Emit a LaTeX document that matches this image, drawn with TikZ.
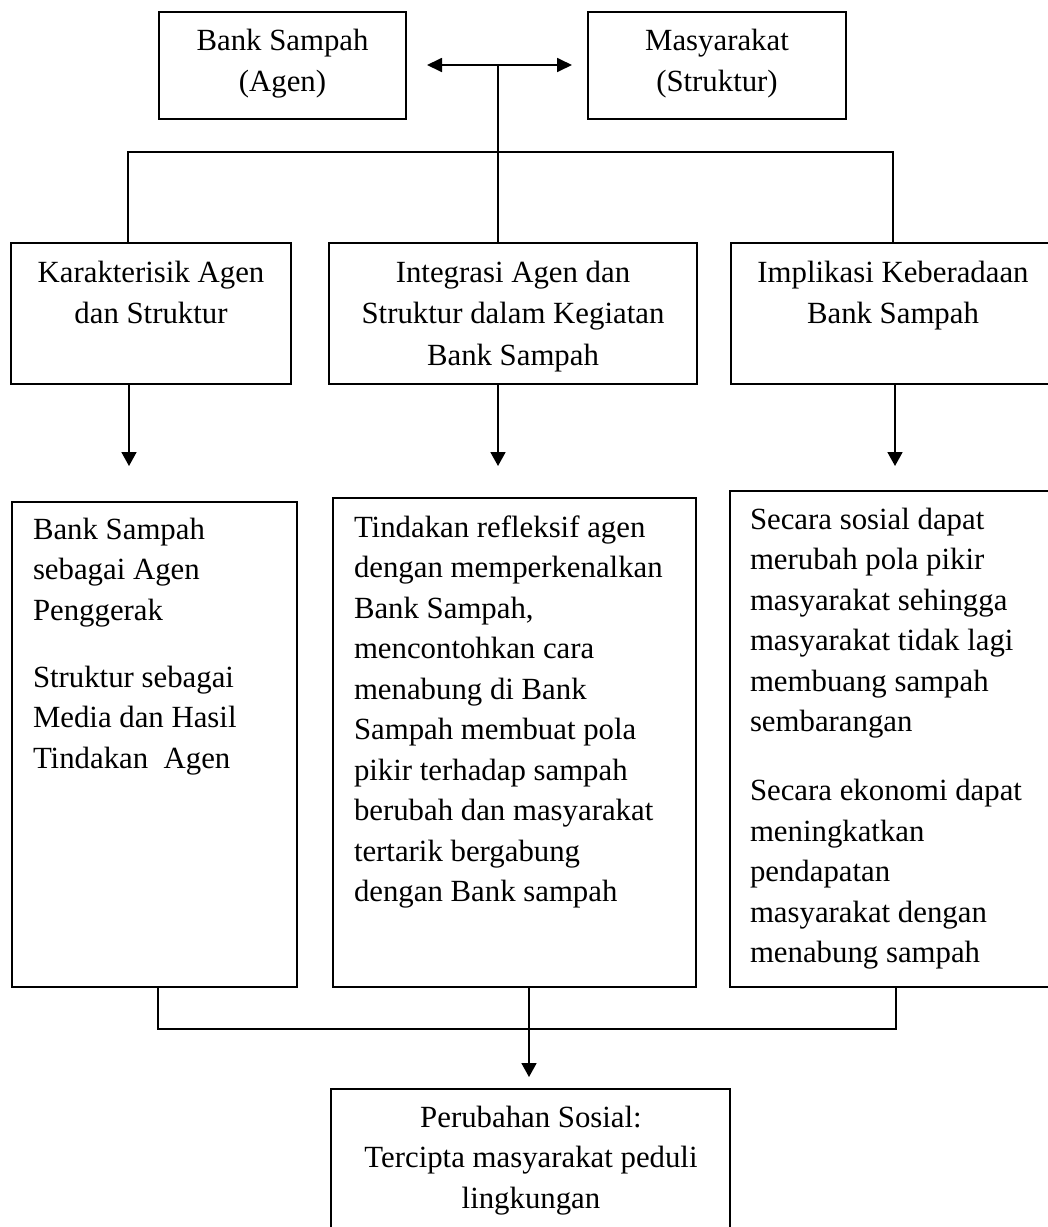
\documentclass[tikz,border=0pt]{standalone}
\usepackage{fontspec}
\setmainfont{Liberation Serif}
\usetikzlibrary{arrows.meta}
\begin{document}
\begin{tikzpicture}[x=0.5pt,y=-0.5pt,
  box/.style={draw, line width=0.9pt, inner sep=0pt, outer sep=0pt, anchor=north west},
  txtc/.style={inner sep=0pt, outer sep=0pt, font=\fontsize{15.4}{20.75}\selectfont, align=center, anchor=north},
  txtl/.style={inner sep=0pt, outer sep=0pt, font=\fontsize{15.4}{20.25}\selectfont, align=left, anchor=north west},
  txtf/.style={inner sep=0pt, outer sep=0pt, font=\fontsize{15.4}{20.25}\selectfont, align=center, anchor=north},
  ln/.style={line width=0.9pt},
  arr/.style={line width=0.9pt, -{Triangle[length=7pt,width=7.5pt]}},
  dbl/.style={line width=0.9pt, {Triangle[length=7.5pt,width=7pt]}-{Triangle[length=7.5pt,width=7pt]}},
]
\useasboundingbox (0,0) rectangle (1048,1227);
\clip (0,0) rectangle (1048,1227);

% top row
\node[box, minimum width=123.5pt, minimum height=53.5pt] (A) at (159,12) {};
\node[box, minimum width=129pt, minimum height=53.5pt] (M) at (588,12) {};
\node[txtc] (At) at (282.5,26) {\rule{0pt}{12pt}Bank Sampah\\(Agen)};
\node[txtc] (Mt) at (717,26) {\rule{0pt}{12pt}Masyarakat\\(Struktur)};

% middle row
\node[box, minimum width=140pt, minimum height=70.5pt] (K) at (11,243) {};
\node[box, minimum width=184pt, minimum height=70.5pt] (I) at (329,243) {};
\node[box, minimum width=162pt, minimum height=70.5pt] (P) at (731,243) {};
\node[txtc] (Kt) at (151,258) {\rule{0pt}{12pt}Karakterisik Agen\\dan Struktur};
\node[txtc] (It) at (513,258) {\rule{0pt}{12pt}Integrasi Agen dan\\Struktur dalam Kegiatan\\Bank Sampah};
\node[txtc] (Pt) at (893,258) {\rule{0pt}{12pt}Implikasi Keberadaan\\Bank Sampah};

% bottom row
\node[box, minimum width=142.5pt, minimum height=242.5pt] (B1) at (12,502) {};
\node[box, minimum width=181.5pt, minimum height=244.5pt] (B2) at (333,498) {};
\node[box, minimum width=162.5pt, minimum height=248pt] (B3) at (730,491) {};
\node[txtl] (B1t) at (33,515) {\rule{0pt}{12pt}Bank Sampah\\sebagai Agen\\Penggerak\\[13.25pt]Struktur sebagai\\Media dan Hasil\\Tindakan\ \ Agen};
\node[txtl] (B2t) at (354,513) {\rule{0pt}{12pt}Tindakan refleksif agen\\dengan memperkenalkan\\Bank Sampah,\\mencontohkan cara\\menabung di Bank\\Sampah membuat pola\\pikir terhadap sampah\\berubah dan masyarakat\\tertarik bergabung\\dengan Bank sampah};
\node[txtl] (B3t) at (750,505) {\rule{0pt}{12pt}Secara sosial dapat\\merubah pola pikir\\masyarakat sehingga\\masyarakat tidak lagi\\membuang sampah\\sembarangan\\[14.25pt]Secara ekonomi dapat\\meningkatkan\\pendapatan\\masyarakat dengan\\menabung sampah};

% final box
\node[box, minimum width=199.5pt, minimum height=85.5pt] (F) at (331,1089) {};
\node[txtf] (Ft) at (531,1103) {\rule{0pt}{12pt}Perubahan Sosial:\\Tercipta masyarakat peduli\\lingkungan};

% connectors top
\coordinate (la) at (427,65);
\coordinate (ra) at (572,65);
\coordinate (jt) at (498,65);
\draw[dbl] (la) -- (ra);
\draw[ln] (jt) -- (jt |- I.north);
\coordinate (hl) at (128,152);
\coordinate (hr) at (893,152);
\draw[ln] (hl |- K.north) -- (hl) -- (hr) -- (hr |- P.north);

% arrows middle to bottom
\coordinate (t1) at (129,466);
\coordinate (t2) at (498,466);
\coordinate (t3) at (895,466);
\draw[arr] (t1 |- K.south) -- (t1);
\draw[arr] (t2 |- I.south) -- (t2);
\draw[arr] (t3 |- P.south) -- (t3);

% bottom connectors
\coordinate (bl) at (158,1029);
\coordinate (br) at (896,1029);
\coordinate (bm) at (529,1077);
\draw[ln] (bl |- B1.south) -- (bl) -- (br) -- (br |- B3.south);
\draw[arr] (bm |- B2.south) -- (bm);
\end{tikzpicture}
\end{document}
